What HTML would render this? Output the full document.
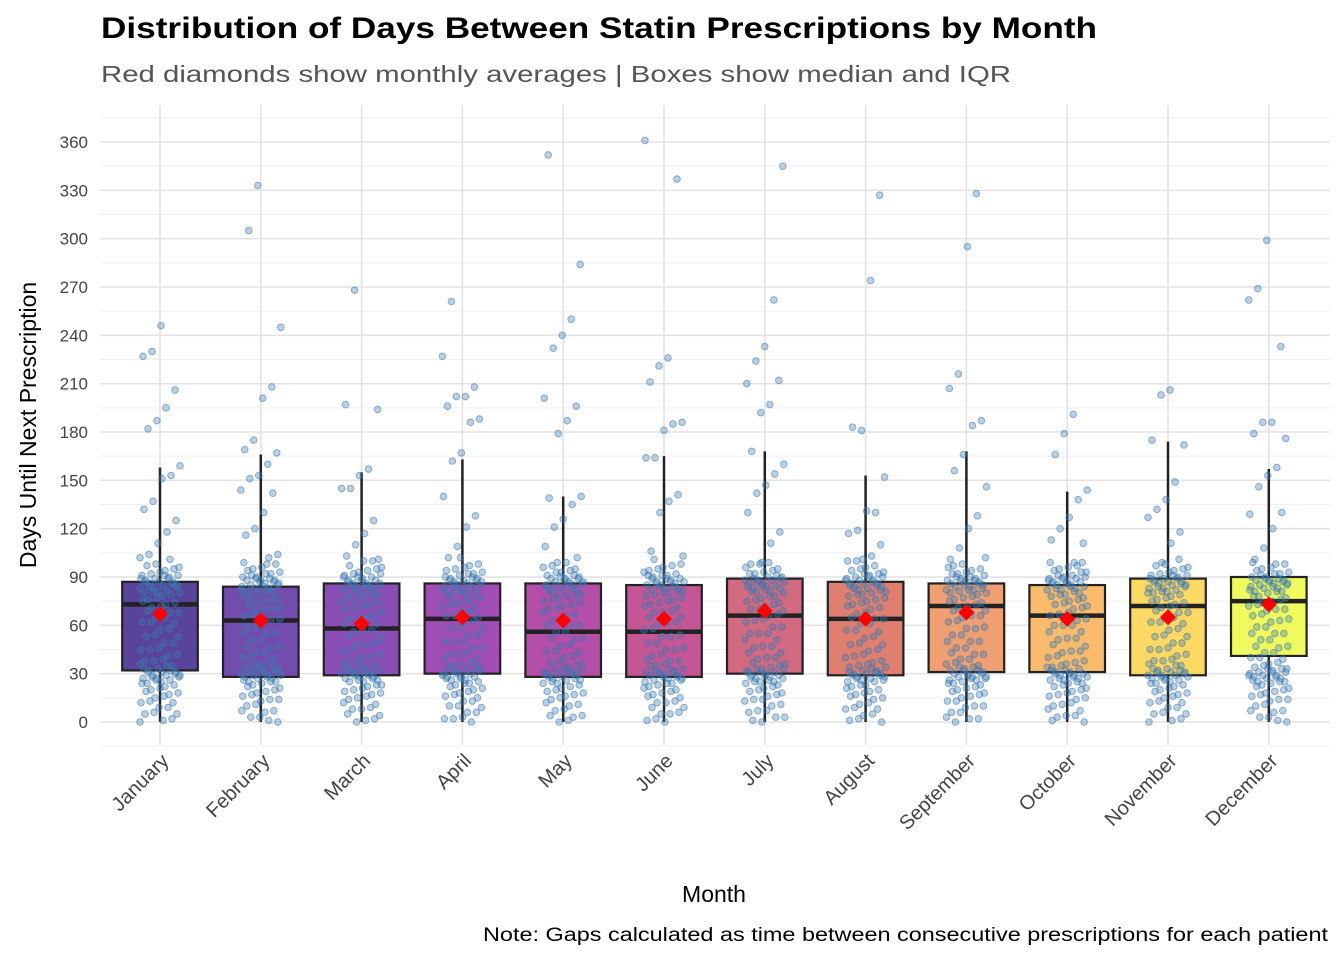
<!DOCTYPE html>
<html><head><meta charset="utf-8"><style>
html,body{margin:0;padding:0;background:#fff}
svg{display:block;font-family:"Liberation Sans",Arial,sans-serif}
</style></head><body>
<svg id="chart" width="1344" height="960" viewBox="0 0 1344 960" xmlns="http://www.w3.org/2000/svg">
<text x="101" y="38" font-size="30" font-weight="bold" fill="#000" textLength="996" lengthAdjust="spacingAndGlyphs">Distribution of Days Between Statin Prescriptions by Month</text>
<text x="101" y="82" font-size="23" fill="#555" textLength="910" lengthAdjust="spacingAndGlyphs">Red diamonds show monthly averages | Boxes show median and IQR</text>
<g id="grid"></g>
<g id="yaxis"></g>
<g id="xaxis"></g>
<g id="boxes"></g>
<g id="points"></g>
<g id="means"></g>
<text transform="translate(36,425) rotate(-90)" text-anchor="middle" font-size="23" fill="#000">Days Until Next Prescription</text>
<text x="714" y="902" text-anchor="middle" font-size="23" fill="#000">Month</text>
<text x="1328" y="941" text-anchor="end" font-size="19" fill="#000" textLength="845" lengthAdjust="spacingAndGlyphs">Note: Gaps calculated as time between consecutive prescriptions for each patient</text>
</svg>
<script>
const months = ["January","February","March","April","May","June","July","August","September","October","November","December"];
const q1 = [32,28,29,30,28,28,30,29,31,31,29,41];
const medians = [73,63,58,64,56,56,66,64,72,66,72,75];
const q3 = [87,84,86,86,86,85,89,87,86,85,89,90];
const whiskerLow = [0,0,0,0,0,0,0,0,0,0,0,0];
const whiskerHigh = [158,166,155,163,140,165,168,153,168,143,174,157];
const means = [67,63,61,65,63,64,69,64,68,64,65,73];
const yTicks = [0,30,60,90,120,150,180,210,240,270,300,330,360];
const colors = ["#4f3a95","#6a43a9","#8443b1","#9b44b0","#b044a4","#c24d90","#d0627a","#de7867","#ef9a6a","#fbb764","#fdd75c","#eefa55"];
const outliers = [
 [247,228,227,208,194,188,180,159,155,150,138,130,125,120,110,105,100],
 [332,306,243,208,203,174,170,165,160,155,150,145,140,130,122,115,105,100],
 [270,196,195,155,153,147,144,126,115,110,105,100],
 [261,229,207,203,200,196,190,185,168,160,140,130,120,110,100],
 [350,284,252,239,233,199,196,189,178,140,138,135,128,120,110,100],
 [362,335,226,223,210,187,183,181,166,163,142,135,130,108,102],
 [344,263,231,224,212,211,198,190,168,162,153,148,140,130,120,110,100],
 [329,273,182,181,152,132,130,120,115,110,105,100],
 [328,297,215,208,185,184,168,155,147,126,120,110,100],
 [189,179,168,143,139,125,120,115,110,100],
 [207,201,175,174,148,139,130,127,120,110,100],
 [298,270,260,233,188,185,180,174,158,155,145,130,128,120,110,100]
];
const body = [0,1,2,4,5,7,8,10,11,12,14,15,16,17,18,19,20,21,22,23,24,25,25,26,26,27,27,28,28,29,29,30,30,30,31,31,32,32,33,33,34,35,36,37,38,40,41,42,44,45,47,48,50,52,53,55,57,58,60,62,63,64,66,67,68,70,71,72,73,74,75,76,77,78,79,80,80,81,82,82,83,83,84,84,85,85,86,86,87,87,88,88,88,89,89,90,90,91,91,92,93,94,95,96,97,98,100];
const X0 = 160, DX = 100.8, Y0 = 722, PPU = 580/360;
const xs = i => X0 + i*DX;
const ys = v => Y0 - v*PPU;
const NS = "http://www.w3.org/2000/svg";
function mk(tag, attrs, parent){const e=document.createElementNS(NS,tag);for(const k in attrs)e.setAttribute(k,attrs[k]);parent.appendChild(e);return e;}
const grid=document.getElementById('grid'), ya=document.getElementById('yaxis'), xa=document.getElementById('xaxis');
for(let v=-15; v<=375; v+=30){
  const l=mk('line',{x1:100,x2:1330,y1:ys(v),y2:ys(v),stroke:'#efefef','stroke-width':1},grid);
  
  
}
yTicks.forEach(v=>{
  const l=mk('line',{x1:100,x2:1330,y1:ys(v),y2:ys(v),stroke:'#e3e3e3','stroke-width':1.6},grid);
  
  
  const t=mk('text',{x:88,y:ys(v)+6,'text-anchor':'end','font-size':17,fill:'#444'},ya);
  t.textContent=v;
  
  
});
months.forEach((m,i)=>{
  const l=mk('line',{x1:xs(i),x2:xs(i),y1:105,y2:745,stroke:'#e3e3e3','stroke-width':1.6},grid);
  
  
  const t=mk('text',{transform:`translate(${xs(i)+10},${762}) rotate(-45)`,'text-anchor':'end','font-size':20,fill:'#444'},xa);
  t.textContent=m;
  
  
});
const bx=document.getElementById('boxes'), pts=document.getElementById('points'), mn=document.getElementById('means');
const W=75.6;
months.forEach((m,i)=>{
  const c=xs(i);
  const g=mk('g',{},bx);
  
  
  const w1=mk('line',{x1:c,x2:c,y1:ys(q3[i]),y2:ys(whiskerHigh[i]),stroke:'#222','stroke-width':2.5},g);
  
  
  const w2=mk('line',{x1:c,x2:c,y1:ys(q1[i]),y2:ys(whiskerLow[i]),stroke:'#222','stroke-width':2.5},g);
  
  
  const r=mk('rect',{x:c-W/2,y:ys(q3[i]),width:W,height:ys(q1[i])-ys(q3[i]),fill:colors[i],'fill-opacity':0.95,stroke:'#222','stroke-width':2.2},g);
  
  
  const md=mk('line',{x1:c-W/2,x2:c+W/2,y1:ys(medians[i]),y2:ys(medians[i]),stroke:'#222','stroke-width':4.5},g);
  
  
  const all=body.concat(outliers[i]);
  all.forEach((v,k)=>{
    const h=((k*73+i*37)%41)/40-0.5;
    const off=((k*13+i*7)%5)-2;
    const vv=(v+off<0)?v:v+off;
    const p=mk('circle',{cx:c+h*40,cy:ys(vv),r:3.3,fill:'rgba(60,120,175,0.35)',stroke:'rgba(60,120,175,0.55)','stroke-width':1},pts);
    
    
  });
  const y=ys(means[i]);
  const d=mk('polygon',{points:`${c},${y-8} ${c+8},${y} ${c},${y+8} ${c-8},${y}`,fill:'#ff0000'},mn);
  
  
});
</script>
</body></html>
